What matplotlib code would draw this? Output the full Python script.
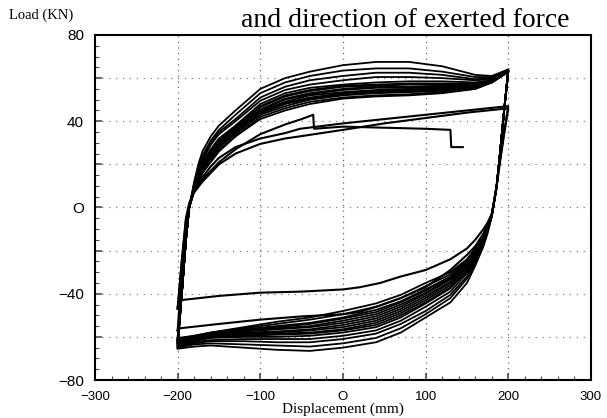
import matplotlib
matplotlib.use("Agg")
import matplotlib.pyplot as plt

# stations along the upper (left -> right) and lower (right -> left) branches
x_up = [-200, -195, -190, -186, -180, -175, -170, -160, -150, -130, -100, -70, -40, 0, 40, 80, 120, 160, 180, 200]
x_dn = [200, 195, 190, 186, 180, 175, 170, 160, 150, 130, 100, 70, 40, 0, -40, -80, -120, -160, -180, -200]

# big cycles (outermost first), load in kN
big_up = [
    [-65, -40, -15, 0, 12, 20, 26, 33, 38, 45, 55, 60, 63, 66, 67.5, 67.5, 65.5, 61.5, 61, 64],
    [-65, -40, -15, 0, 11, 18, 24, 31, 36, 43, 53, 58, 61, 63.5, 64.5, 64.5, 63, 60.5, 60.5, 64],
    [-64, -40, -15, 0, 10, 17, 23, 30, 35, 41, 51, 56, 59, 61, 62.5, 62.5, 61.5, 59.5, 60, 64],
    [-64, -40, -15, 0, 10, 16, 22, 29, 34, 40, 49.5, 54.5, 57, 59, 60.5, 60.5, 60, 59, 59.5, 63.5],
    [-63, -40, -15, 0, 9, 15, 21, 27, 32, 38, 48, 53, 55.5, 57, 58, 58.5, 58.5, 58, 59, 63.5],
    [-63, -40, -15, 0, 9, 14.5, 20.5, 26.5, 31.5, 37.5, 47, 52, 54.5, 56.5, 57, 57.5, 57.5, 57.5, 58.5, 63.5],
    [-63, -40, -15, 0, 9, 14, 20, 26, 31, 37, 46.5, 51.5, 54, 56, 56.5, 57, 57, 57, 58.5, 63.5],
    [-62, -40, -15, 0, 9, 14, 19.5, 25.5, 30.5, 36.5, 45.5, 50.5, 53, 55, 56, 56, 56.5, 56.5, 58.5, 63],
    [-62, -40, -15, 0, 9, 14, 19, 25, 30, 36, 45, 50, 52.5, 54.5, 55.5, 55.5, 56, 56.5, 58.5, 63],
    [-62, -40, -15, 0, 8.5, 13.5, 18.5, 24.5, 29.5, 35.5, 44.5, 49, 52, 53.5, 54.5, 55, 55.5, 56, 58, 63],
    [-62, -40, -15, 0, 8, 13, 18, 24, 29, 35, 44, 48.5, 51, 53, 54, 54.5, 55, 56, 58, 63],
    [-61, -40, -15, 0, 8, 13, 17.5, 23.5, 28.5, 34.5, 43.5, 48, 50.5, 52.5, 53.5, 54, 54.5, 55.5, 58, 63],
    [-61, -40, -15, 0, 8, 13, 17, 23, 28, 34, 43, 47, 50, 52, 53, 53.5, 54, 55.5, 58, 63],
    [-61, -40, -15, 0, 8, 12, 16, 22, 27, 33, 42, 46, 49, 51, 52, 52.5, 53.5, 55, 58, 63],
    [-60, -40, -15, 0, 8, 12, 16, 21, 26, 33, 41, 45, 48, 50.5, 51.5, 52, 53, 55, 58, 63],
]
big_dn = [
    [64, 45, 25, 10, -4, -12, -18, -27, -35, -44, -51, -58, -62.5, -65, -66.5, -66, -65, -64, -64.5, -65.5],
    [64, 45, 25, 10, -4, -11, -17, -26, -33, -42, -49.5, -56, -60.5, -63, -64.5, -64, -63.5, -63, -63.5, -65],
    [64, 45, 25, 10, -4, -11, -16, -25, -32, -40.5, -48, -54, -58.5, -61, -62.5, -62.5, -62, -62, -63, -64.5],
    [64, 45, 25, 10, -4, -10, -15, -24, -30.5, -39, -46, -52.5, -57, -59.5, -61, -61, -61, -61.5, -62.5, -64],
    [63.5, 45, 25, 10, -4, -10, -15, -23, -29.5, -37.5, -44.5, -51, -55.5, -58, -59.5, -60, -60, -60.5, -62, -63.5],
    [63.5, 45, 25, 10, -4, -10, -14.5, -22.5, -29, -37, -44, -50, -54.5, -57, -58.5, -59, -59.5, -60, -61.5, -63],
    [63.5, 45, 25, 10, -4, -9.5, -14, -22, -28, -36, -43, -49, -53.5, -56.5, -58, -58.5, -59, -60, -61.5, -63],
    [63.5, 45, 25, 10, -4, -9, -14, -21.5, -27.5, -35, -42, -48, -52.5, -55.5, -57, -58, -58.5, -59.5, -61, -62.5],
    [63.5, 45, 25, 10, -4, -9, -13.5, -21, -27, -34.5, -41, -47, -51.5, -54.5, -56.5, -57.5, -58, -59.5, -61, -62.5],
    [63, 45, 25, 10, -4, -9, -13, -20.5, -26.5, -33.5, -40, -46, -50.5, -53.5, -55.5, -56.5, -57.5, -59, -60.5, -62],
    [63, 45, 25, 10, -4, -9, -13, -20.5, -26, -33, -39.5, -45, -49.5, -52.5, -55, -56, -57, -59, -60.5, -62],
    [63, 45, 25, 10, -4, -8.5, -13, -20, -25.5, -32.5, -38.5, -44, -48.5, -51.5, -54, -55.5, -56.5, -58.5, -60, -61.5],
    [63, 45, 25, 10, -4, -8.5, -13, -20, -25, -32, -38, -43.5, -47.5, -51, -53.5, -55, -56.5, -58.5, -60, -61.5],
    [63, 45, 25, 10, -4, -8.5, -13, -19.5, -24.5, -31, -36.5, -42, -46, -49.5, -52, -54, -56, -58, -59.5, -61],
    [63, 45, 25, 10, -4, -8, -13, -19, -24, -30, -35, -40.5, -44.5, -48, -51, -53, -55.5, -58, -59.5, -60.5],
]

# early, smaller cycles (peak ~47 kN)
small_x_up = [-200, -195, -190, -186, -180, -170, -160, -150, -130, -100, -70, -52, 0, 50, 100, 150, 200]
small_up = [
    [-47, -25, -5, 2, 8, 14, 19, 23, 28, 32, 34.5, 36.5, 39, 41, 43, 45, 47],
    [-57, -30, -8, 1, 7, 12, 16, 20, 25, 29.5, 32, 33, 36, 39, 41.5, 44, 46],
]
small_x_dn = [200, 195, 190, 185, 180, 175, 170, 160, 150, 130, 100, 70, 45, 20, 0, -50, -100, -150, -197, -200]
small_dn = [
    [47, 35, 22, 8, -3, -7, -10, -15, -19, -24, -29, -32, -35, -37, -38, -39, -39.5, -41, -43, -46],
    [46, 34, 21, 7, -3, -8, -12, -18, -22, -29, -37, -42, -45.5, -48.5, -49.5, -50.5, -52, -54, -56, -57],
]

# last push, with the drops near -35 mm and 130 mm
last_x = [-200, -195, -190, -186, -180, -170, -160, -150, -130, -100, -70, -50, -36, -35, 0, 50, 100, 130, 131, 145]
last_y = [-47, -25, -6, 1, 8, 13, 17, 21, 27, 34, 38.5, 41, 43, 36.5, 37.5, 37, 36.5, 36, 28, 28]

fig = plt.figure(figsize=(6.07, 4.18), dpi=100)
ax = fig.add_axes([0.1565, 0.0909, 0.817, 0.8254])

for yu, yd in zip(big_up, big_dn):
    ax.plot(x_up + x_dn, yu + yd, color='black', lw=1.3)
for yu, yd in zip(small_up, small_dn):
    ax.plot(small_x_up + small_x_dn, yu + yd, color='black', lw=1.5)
ax.plot(last_x, last_y, color='black', lw=1.5)

ax.set_xlim(-300, 300)
ax.set_ylim(-80, 80)

ax.set_xticks([-300, -200, -100, 0, 100, 200, 300])
ax.set_xticklabels(['\u2212300', '\u2212200', '\u2212100', 'O', '100', '200', '300'],
                   family='Liberation Sans', fontsize=9.5)
ax.set_yticks([-80, -60, -40, -20, 0, 20, 40, 60, 80])
ax.set_yticklabels(['\u221280', '', '\u221240', '', 'O', '', '40', '', '80'],
                   family='Liberation Sans', fontsize=11)
ax.set_xticks(range(-300, 301, 20), minor=True)
ax.set_yticks(range(-80, 81, 5), minor=True)
ax.tick_params(which='both', direction='in', color='0.3')
ax.tick_params(which='major', length=5, width=1.2)
ax.tick_params(which='minor', length=3, width=0.8)
ax.tick_params(axis='x', which='major', pad=8)
ax.tick_params(axis='y', which='major', pad=8)

for gx in [-200, -100, 0, 100, 200]:
    ax.axvline(gx, color='0.4', lw=0.9, ls=(0, (1, 3.5)), zorder=0)
for gy in [-60, -40, -20, 0, 20, 40, 60]:
    ax.axhline(gy, color='0.5', lw=0.9, ls=(0, (1, 4.5)), zorder=0)

for s in ax.spines.values():
    s.set_linewidth(1.5)

fig.text(0.015, 0.964, 'Load (KN)', family='Liberation Serif', fontsize=10.5, va='center')
fig.text(0.667, 0.952, 'and direction of exerted force', family='Liberation Serif',
         fontsize=20, va='center', ha='center')
fig.text(0.565, 0.022, 'Displacement (mm)', family='Liberation Serif', fontsize=11,
         va='center', ha='center')

fig.savefig('out.png', dpi=100)
